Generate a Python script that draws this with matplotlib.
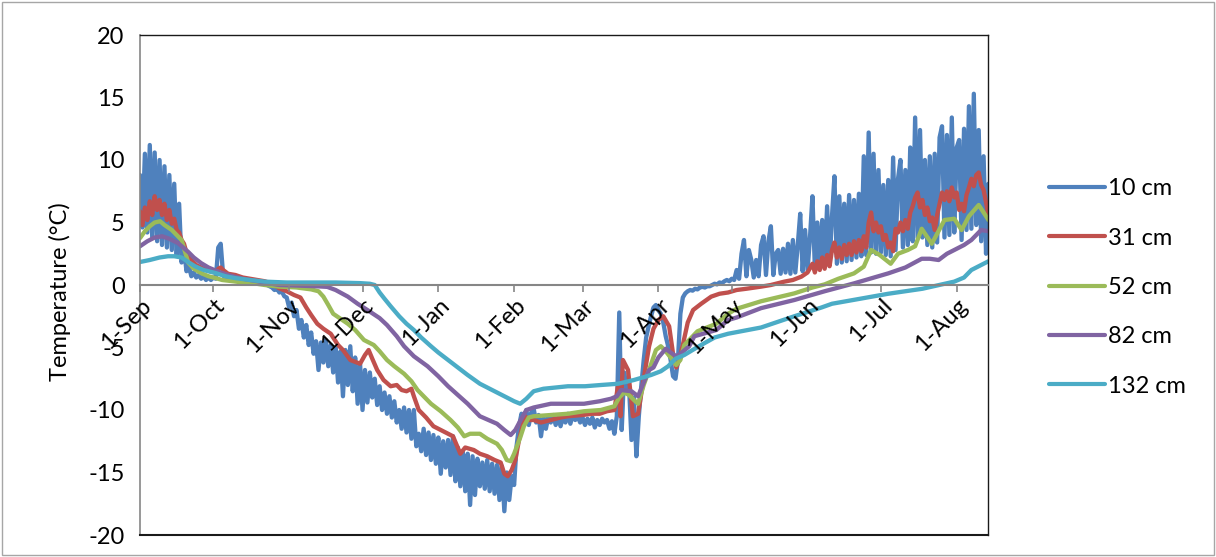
import numpy as np
import matplotlib
matplotlib.use("Agg")
import matplotlib.pyplot as plt
from matplotlib.patches import Rectangle

plt.rcParams['font.family'] = ['Lato', 'DejaVu Sans']
plt.rcParams['axes.unicode_minus'] = False

# ---------------- data ----------------
start_date = np.datetime64('2012-09-01')
series_names = ['10 cm', '31 cm', '52 cm', '82 cm', '132 cm']

# 10 cm : one value per day from 1-Sep
t10 = [
    8.8, 4.6, 10.5, 4.2, 11.2, 3.8, 10.6, 3.5, 10.0, 3.2,
    9.5, 3.0, 8.8, 2.8, 8.1, 2.4, 6.5, 1.8, 3.0, 1.1,
    1.5, 0.7, 1.0, 0.6, 0.8, 0.5, 0.7, 0.4, 0.6, 0.4,
    0.6, 0.5, 3.0, 3.3, 0.8, 0.5, 0.6, 0.4, 0.5, 0.4,
    0.35, 0.3, 0.35, 0.25, 0.3, 0.2, 0.25, 0.2, 0.15, 0.2,
    0.1, 0.1, 0.0, -0.1, -0.2, -0.4, -0.3, -0.6, -0.5, -0.9,
    -1.0, -1.8, -1.4, -2.5, -2.0, -3.5, -2.8, -4.2, -3.2, -4.8,
    -3.8, -5.5, -4.5, -6.8, -4.6, -6.2, -4.4, -6.5, -4.8, -7.0,
    -5.0, -7.8, -5.3, -8.9, -5.2, -8.0, -4.9, -8.5, -5.8, -9.5,
    -6.3, -10.0, -6.8, -9.4, -7.0, -9.0, -7.5, -9.6, -8.1, -10.0,
    -8.6, -10.3, -8.9, -10.6, -9.3, -11.0, -10.0, -11.5, -9.8, -11.8,
    -10.0, -12.3, -10.0, -12.9, -11.9, -13.3, -11.5, -13.6, -11.8, -14.0,
    -12.0, -14.3, -12.2, -15.1, -12.5, -14.6, -12.4, -15.2, -12.1, -15.7,
    -13.0, -16.1, -13.3, -16.5, -13.5, -17.6, -13.7, -16.8, -13.9, -16.1,
    -14.2, -16.3, -14.0, -16.5, -14.3, -16.7, -14.4, -17.2, -14.5, -18.1,
    -15.0, -17.2, -15.3, -16.0, -12.9, -11.3, -10.3, -11.0, -10.0, -11.2,
    -10.2, -9.9, -11.0, -10.4, -12.1, -10.6, -11.5, -10.5, -11.0, -10.4,
    -11.2, -10.6, -11.3, -10.5, -11.0, -10.3, -11.1, -10.4, -10.8, -10.5,
    -11.0, -10.6, -11.2, -10.7, -11.1, -10.6, -11.4, -10.8, -11.2, -10.7,
    -11.0, -10.8, -11.5, -10.9, -11.9, -10.5, -2.2, -11.6, -7.0, -8.5,
    -8.1, -12.4, -9.0, -13.7, -10.5, -8.1, -6.0, -4.2, -3.3, -2.5,
    -1.8, -1.6, -2.0, -2.3, -3.0, -4.1, -4.9, -6.0, -7.3, -7.5,
    -6.0, -2.3, -1.0, -0.67, -0.5, -0.4, -0.45, -0.3, -0.35, -0.2,
    -0.15, -0.2, -0.1, -0.1, 0.0, 0.1, 0.05, 0.2, 0.15, 0.3,
    0.4, 0.3, 0.5, 0.4, 1.2, 0.5, 2.5, 3.6, 0.7, 2.8,
    2.0, 0.6, 2.0, 0.7, 3.2, 3.9, 0.8, 3.5, 4.7, 0.8,
    2.5, 2.8, 0.9, 2.9, 1.0, 3.3, 0.9, 3.6, 1.0, 3.2,
    5.7, 1.1, 4.4, 1.2, 3.8, 7.1, 1.3, 5.0, 1.4, 5.2,
    1.5, 6.3, 1.6, 5.5, 8.7, 1.7, 7.1, 1.8, 6.5, 1.9,
    7.2, 2.0, 6.8, 2.2, 7.3, 2.3, 10.3, 2.4, 12.2, 2.6,
    10.5, 2.5, 9.2, 2.6, 8.0, 2.4, 8.4, 2.3, 10.2, 2.8,
    8.5, 10.0, 3.0, 9.2, 3.2, 11.0, 3.5, 13.4, 3.8, 12.4,
    3.8, 10.0, 3.2, 10.3, 3.0, 10.5, 3.4, 11.8, 12.7, 3.8,
    12.0, 4.0, 13.4, 4.2, 11.0, 11.6, 3.6, 12.5, 4.4, 14.3,
    4.5, 15.3, 4.8, 12.4, 3.5, 10.3, 2.5, 8.1,
]
d10 = list(range(len(t10)))

# 31 cm
d31 = [0, 1, 2, 3, 4, 5, 6, 7, 8, 9, 10, 11, 12, 13, 14, 15, 16, 17, 18, 19, 20, 21, 23, 25, 27, 29,
       31, 32, 33, 34, 36, 39, 42, 45, 48, 51, 54, 57, 60, 63, 65.6, 68, 70, 72.5, 75, 78, 81, 83, 86,
       90, 92, 93.5, 95, 97, 99.6, 102.5, 105, 107, 109, 111, 112, 114, 117, 120, 123, 126, 128, 131,
       133, 136.5, 139, 142, 145, 147.5, 149, 150.4, 152, 153.5, 155, 156, 157.5, 159, 161, 164, 168,
       172, 175, 181, 185, 188, 191, 194, 195.5, 196.5, 197.5, 199.6, 201.6, 203.7, 206, 208.2, 210,
       212, 214, 216.4, 218, 219.3, 220.5, 222.1, 224, 226.2, 229.5, 233.6, 237, 240.5, 244, 248, 254,
       258, 263.5, 267, 270.5, 273,
       275, 276, 277, 278, 279, 280, 281, 282, 283, 284, 285, 286, 287, 288, 289, 290, 291, 292, 293,
       294, 295, 296, 297, 298, 299, 300, 301, 302, 303, 304, 305, 306, 307, 308, 309, 310, 311, 312,
       313, 314, 315, 316, 317, 318, 319, 320, 321, 322, 323, 324, 325, 326, 327, 328, 329, 330, 331,
       332, 333, 334, 335, 336, 337, 338, 339, 340, 341, 342, 343, 344, 345, 346, 347]
t31 = [5.9, 4.8, 6.2, 5.2, 6.7, 5.6, 7.1, 6.0, 6.8, 5.6, 6.5, 5.2, 6.0, 4.9, 5.3, 4.4, 4.2, 3.6, 3.3, 2.6,
       2.2, 2.0, 1.6, 1.4, 1.2, 1.07,
       1.0, 1.3, 1.4, 1.2, 0.9, 0.8, 0.6, 0.5, 0.4, 0.3, 0.1, -0.27, -0.5, -0.8, -1.0, -1.8, -2.4, -3.1,
       -3.5, -3.9, -4.8, -5.2, -6.0,
       -6.3, -5.6, -5.2, -5.9, -6.8, -7.6, -8.1, -8.0, -8.4, -8.5, -8.3, -8.9, -10.0, -10.6, -11.3,
       -11.6, -11.9, -12.1, -13.5,
       -13.0, -13.2, -13.5, -13.7, -14.0, -14.2, -15.1, -15.3, -14.8, -14.0, -12.4, -11.6, -10.5,
       -10.8, -10.8, -11.0, -10.8,
       -10.6, -10.5, -10.4, -10.3, -10.3, -10.1, -10.0, -8.0, -10.5, -6.0, -6.8, -10.5, -10.3, -7.5,
       -4.9, -3.5,
       -2.8, -2.5, -3.3, -5.5, -6.6, -6.0, -4.7, -3.0, -2.0, -1.5, -0.93, -0.7, -0.6, -0.4, -0.3,
       -0.13,
       0.0, 0.27, 0.4, 0.67, 1.0,
       1.7, 1.0, 1.9, 1.2, 2.2, 1.3, 2.4, 1.5, 2.8, 3.4, 2.2, 3.0, 2.1, 3.2, 2.4, 3.3, 2.4, 3.5, 2.6,
       3.6, 2.7, 3.9, 3.0, 5.0, 5.8, 4.3, 5.0, 4.2, 4.7, 3.6, 4.0, 3.0, 3.4, 2.7, 4.5, 4.2, 5.0, 4.3,
       5.2, 4.5, 5.8, 6.3, 7.0, 7.4, 6.2, 6.8, 5.6, 6.2, 5.1, 5.4, 4.4, 5.6, 6.5, 7.4, 6.8, 7.5, 6.7,
       7.8, 7.0, 7.4, 6.0, 6.5, 5.9, 7.2, 7.8, 8.5, 7.9, 8.8, 9.0, 8.0, 7.6, 6.6, 5.5]

# 52 cm
d52 = [0, 2, 4, 6, 8.2, 10, 13, 15, 17, 18.5, 19.7, 22, 25, 28, 31, 33.6, 38, 42, 46, 51, 57, 64, 70,
       73, 75, 77, 79, 82, 85, 88, 91.6, 95.6, 98, 101, 104, 108, 111, 113.5, 116, 119, 123, 127, 130,
       132.6, 135, 139, 142, 146, 148, 150, 151.6, 153, 155.5, 157, 159, 161, 168, 175, 181.6, 188.5,
       194, 196, 198, 200, 202, 203.7, 206, 208.2, 211, 213, 215, 217, 219.3, 221, 222.6, 224.6, 228,
       235.7, 240.5, 244, 254, 267.6, 275, 280, 285.6, 292, 296, 299, 302.5, 307, 310, 314, 317,
       319.7, 323.8, 329, 333, 336, 339, 343, 347]
t52 = [3.75, 4.3, 4.7, 5.0, 5.1, 4.8, 4.4, 4.0, 3.6, 2.6, 1.8, 1.3, 0.95, 0.7, 0.55, 0.4, 0.3, 0.2,
       0.15, 0.0, -0.13, -0.2, -0.35,
       -0.5, -0.93, -1.6, -2.3, -2.7, -3.1, -3.6, -4.4, -4.8, -5.3, -6.0, -6.5, -7.1, -7.7, -8.4, -8.9,
       -9.5, -10.1, -10.8, -11.4,
       -12.1, -11.9, -11.9, -12.3, -12.7, -13.2, -14.0, -14.1, -13.5, -12.2, -11.3, -10.6, -10.5,
       -10.4, -10.3, -10.1, -10.0,
       -9.7, -9.0, -8.6, -8.8, -9.2, -9.5, -8.0, -6.8, -5.2, -4.9, -5.3, -5.8, -6.4, -6.0, -4.8, -4.4,
       -3.7,
       -3.1, -2.3, -1.9, -1.3, -0.67, -0.2, 0.05, 0.5, 0.93, 1.47, 2.8, 2.4, 1.7, 2.5, 2.8, 3.1,
       4.5, 3.3, 5.2, 5.3, 4.4, 5.5, 6.4, 5.2]

# 82 cm
d82 = [0, 3, 6, 9, 12, 15.6, 19.7, 22, 25, 28, 32, 36, 42, 48, 52, 57, 65, 72, 76.6, 80, 85, 89, 93,
       98, 101, 105, 108, 112, 117.6, 122, 126, 130, 134, 139, 146, 149, 151.6, 153.5, 155.7, 158, 161,
       168, 175, 181.6, 188, 192.6, 195, 196.7, 201, 203.7, 206, 208.2, 210, 212, 215, 217, 219.3, 221,
       224.6, 226.7, 235.7, 240.5, 244, 254, 267.6, 280, 292, 306, 313, 319.7, 323, 326.6, 330, 333,
       337, 340, 344, 347]
t82 = [3.1, 3.5, 3.8, 3.9, 3.7, 3.35, 2.65, 2.2, 1.75, 1.4, 1.07, 0.8, 0.5, 0.3, 0.15, 0.0, -0.05,
       -0.1, -0.15, -0.4, -0.93, -1.5, -2.0,
       -2.65, -3.2, -4.1, -4.9, -5.7, -6.5, -7.3, -8.1, -8.8, -9.5, -10.5, -11.1, -11.6, -12.0, -11.6,
       -10.8, -10.0, -9.8,
       -9.5, -9.5, -9.5, -9.3, -9.1, -8.9, -8.4, -8.5, -8.9, -7.8, -6.8, -6.6, -5.8, -5.1, -5.4, -5.7,
       -5.5,
       -4.9, -4.1, -3.6, -2.8, -2.6, -1.85, -1.2, -0.5, 0.13, 0.93, 1.4, 2.1, 2.1, 2.0, 2.5, 2.8,
       3.2, 3.6, 4.4, 4.3]

# 132 cm
d132 = [0, 4, 8, 11.5, 14, 17, 20, 22.5, 26, 31, 35, 39, 45, 51, 60, 70, 80, 90, 94, 96, 98, 100,
        102.5, 106, 109, 112, 115, 119, 122, 126, 130, 134, 139, 143, 148, 153, 155.5, 158, 161, 165,
        170, 175, 182, 188.5, 195.5, 202, 209, 213, 216, 219, 222.6, 226, 229.5, 235, 240.5, 254,
        267.6, 278.7, 283, 306, 320, 333, 337, 340, 344, 347]
t132 = [1.84, 2.0, 2.2, 2.3, 2.3, 2.2, 1.8, 1.5, 1.2, 0.95, 0.7, 0.55, 0.4, 0.27, 0.2, 0.2, 0.2, 0.15,
        0.1, 0.0, -0.6, -1.1,
        -1.7, -2.5, -3.1, -3.6, -4.2, -4.9, -5.4, -6.0, -6.6, -7.2, -7.9, -8.3, -8.8, -9.3, -9.5, -9.1,
        -8.5, -8.3,
        -8.2, -8.1, -8.1, -8.0, -7.9, -7.6, -7.2, -6.9, -6.5, -5.9, -5.6, -5.2, -4.8, -4.2, -3.9, -3.4,
        -2.5, -1.8, -1.5, -0.7, -0.3, 0.27, 0.6, 1.2, 1.6, 1.9]

tick_labels = ['1-Sep', '1-Oct', '1-Nov', '1-Dec', '1-Jan', '1-Feb', '1-Mar',
               '1-Apr', '1-May', '1-Jun', '1-Jul', '1-Aug']
tick_dates = ['2012-09-01', '2012-10-01', '2012-11-01', '2012-12-01', '2013-01-01', '2013-02-01',
              '2013-03-01', '2013-04-01', '2013-05-01', '2013-06-01', '2013-07-01', '2013-08-01']
colors = ['#4F81BD', '#C0504D', '#9BBB59', '#8064A2', '#4BACC6']


def to_days(dates):
    return (np.array(dates, dtype='datetime64[D]') - start_date).astype(float)


# ---------------- figure ----------------
W, H = 1216, 557
FS = 17
fig = plt.figure(figsize=(W / 100, H / 100), dpi=100)
ax = fig.add_axes([140 / W, 1 - 535 / H, (988 - 140) / W, (535 - 35) / H])
ax.set_axisbelow(False)  # tick labels drawn above the data lines, as in the reference

# spine placement first (moving a spine resets tick properties)
ax.spines['bottom'].set_position(('data', 0))
ax.spines['bottom'].set_color('#868686')
ax.spines['bottom'].set_linewidth(1.5)
ax.spines['left'].set_color('#868686')
ax.spines['left'].set_linewidth(1.2)
for s in ['top', 'right']:
    ax.spines[s].set_color('#1a1a1a')
    ax.spines[s].set_linewidth(1.0)

series = [(d10, t10), (d31, t31), (d52, t52), (d82, t82), (d132, t132)]
for (d, t), name, c in zip(series, series_names, colors):
    ax.plot(d, t, color=c, lw=3.1, label=name, solid_joinstyle='round',
            solid_capstyle='round')

ax.set_xlim(0, 346.8)
ax.set_ylim(-20, 20)
ax.set_yticks(np.arange(-20, 21, 5))
ax.tick_params(axis='y', length=0, pad=11, labelsize=FS)

ax.set_xticks(to_days(tick_dates))
ax.set_xticklabels(tick_labels, rotation=45, ha='right', va='top', rotation_mode='anchor')
ax.tick_params(axis='x', direction='out', length=5, width=1.2, color='#868686', pad=2,
               labelsize=FS, labelrotation=45)

ax.axhline(-20, color='#1a1a1a', lw=1.5, clip_on=False, zorder=5)

fig.text(60 / W, 1 - 292 / H, 'Temperature (\u00b0C)', rotation=90, ha='center', va='center',
         fontsize=FS)

leg = ax.legend(loc='upper left', bbox_to_anchor=(1028 / W, 1 - 157 / H),
                bbox_transform=fig.transFigure, frameon=False, fontsize=FS,
                handlelength=2.35, handletextpad=0.15, labelspacing=1.2)
for line in leg.get_lines():
    line.set_linewidth(3.0)

fig.add_artist(Rectangle((2 / W, 2 / H), (W - 4) / W, (H - 4) / H, transform=fig.transFigure,
                         fill=False, edgecolor='#a6a6a6', lw=1.0))

fig.savefig('out.png', dpi=100)
